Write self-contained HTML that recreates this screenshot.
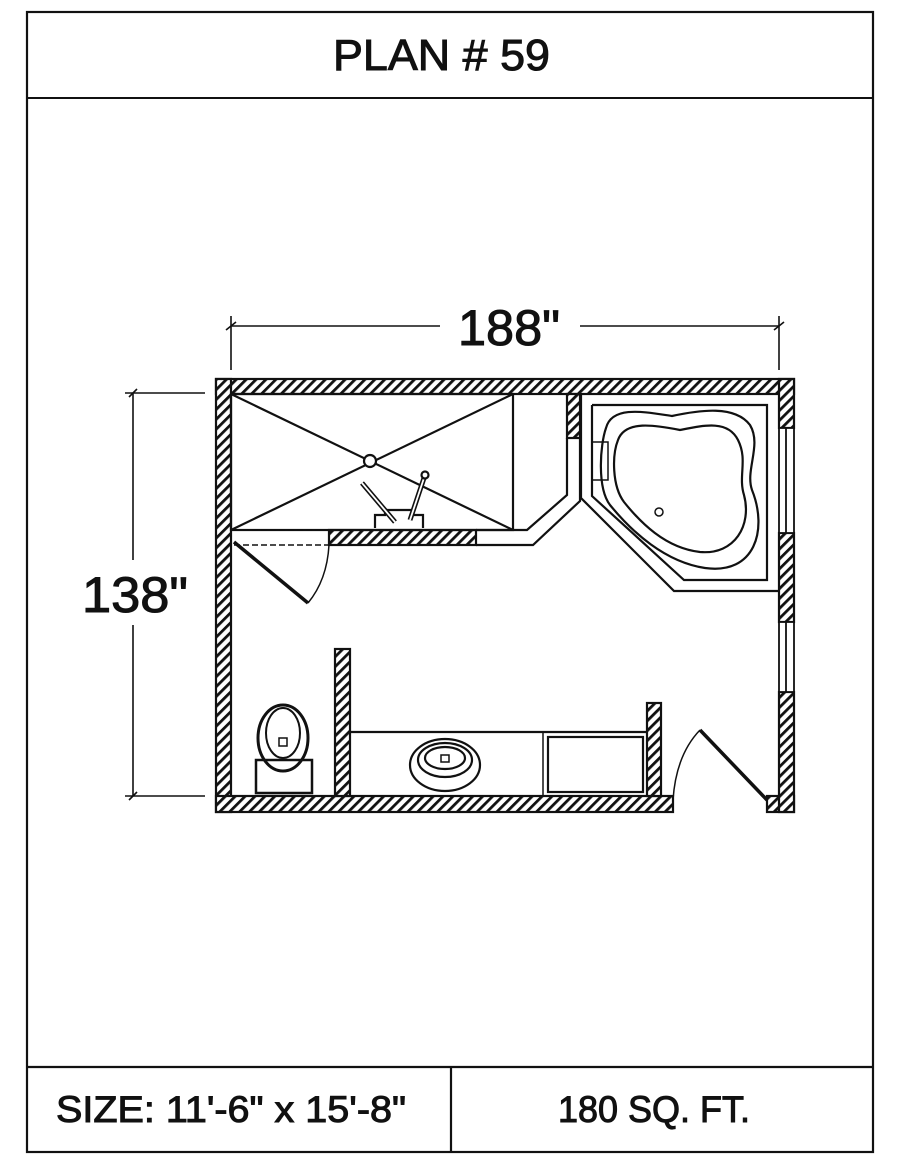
<!DOCTYPE html>
<html><head><meta charset="utf-8"><style>html,body{margin:0;padding:0;background:#fff}svg{display:block}</style></head><body>
<svg width="900" height="1165" viewBox="0 0 900 1165" xmlns="http://www.w3.org/2000/svg" font-family="Liberation Sans, sans-serif">
<defs>
<pattern id="h" patternUnits="userSpaceOnUse" width="7" height="7" patternTransform="rotate(45)">
<rect width="7" height="7" fill="#fff"/><rect x="0" y="0" width="2.8" height="7" fill="#111"/>
</pattern>
</defs>
<rect x="0" y="0" width="900" height="1165" fill="#fff"/>
<rect x="27" y="12" width="846" height="1140" fill="none" stroke="#111" stroke-width="2.2"/>
<line x1="27" y1="98" x2="873" y2="98" stroke="#111" stroke-width="2"/>
<line x1="27" y1="1067" x2="873" y2="1067" stroke="#111" stroke-width="2.2"/>
<line x1="451" y1="1067" x2="451" y2="1152" stroke="#111" stroke-width="2.2"/>
<g fill="#111" stroke="#111" stroke-width="1">
<text x="333" y="70" font-size="44" textLength="217" lengthAdjust="spacingAndGlyphs">PLAN # 59</text>
<text x="56" y="1122" font-size="37" textLength="350" lengthAdjust="spacingAndGlyphs">SIZE:  11'-6" x 15'-8"</text>
<text x="558" y="1122" font-size="37" textLength="192" lengthAdjust="spacingAndGlyphs">180 SQ. FT.</text>
<text x="458" y="345" font-size="50" textLength="102" lengthAdjust="spacingAndGlyphs">188"</text>
<text x="82" y="612" font-size="50" textLength="106" lengthAdjust="spacingAndGlyphs">138"</text>
</g>

<g stroke="#111" stroke-width="1.6" fill="none">
<line x1="231" y1="326" x2="440" y2="326"/><line x1="580" y1="326" x2="779" y2="326"/>
<line x1="231" y1="316" x2="231" y2="370"/><line x1="779" y1="316" x2="779" y2="370"/>
<line x1="226" y1="330" x2="236" y2="322"/><line x1="774" y1="330" x2="784" y2="322"/>
<line x1="133" y1="393" x2="133" y2="560"/><line x1="133" y1="625" x2="133" y2="796"/>
<line x1="125" y1="393" x2="205" y2="393"/><line x1="125" y1="796" x2="205" y2="796"/>
<line x1="129" y1="397" x2="137" y2="389"/><line x1="129" y1="800" x2="137" y2="792"/>
</g>

<g fill="url(#h)" stroke="#111" stroke-width="2.2">
<rect x="216" y="379" width="578" height="15"/>
<rect x="216" y="379" width="15" height="433"/>
<rect x="216" y="796" width="457" height="16"/>
<rect x="767" y="796" width="27" height="16"/>
<rect x="779" y="379" width="15" height="49"/>
<rect x="779" y="533" width="15" height="89"/>
<rect x="779" y="692" width="15" height="120"/>
<rect x="329" y="530" width="147" height="15"/>
<rect x="567" y="394" width="13" height="44"/>
<rect x="335" y="649" width="15" height="147"/>
<rect x="647" y="703" width="14" height="93"/>
</g>
<g stroke="#111" stroke-width="1.8" fill="#fff">
<rect x="779" y="428" width="15" height="105"/><line x1="786" y1="428" x2="786" y2="533"/>
<rect x="779" y="622" width="15" height="70"/><line x1="786" y1="622" x2="786" y2="692"/>
</g>
<g stroke="#111" stroke-width="2.2" fill="none">
<rect x="231" y="394" width="282" height="136"/>
<line x1="231" y1="394" x2="513" y2="530"/>
<line x1="231" y1="530" x2="513" y2="394"/>
<polyline points="476,530 527,530 567,495 567,438"/>
<polyline points="476,545 533,545 580,501 580,438"/>
<line x1="234" y1="530" x2="329" y2="530" stroke-dasharray="6,3" stroke-width="1.5"/>
<line x1="234" y1="545" x2="329" y2="545" stroke-dasharray="6,3" stroke-width="1.5"/>
<line x1="234" y1="542" x2="308" y2="603" stroke-width="3.5"/>
<path d="M308,603 Q327,580 329,545" stroke-width="1.5"/>
<polyline points="581,394 581,498 674,591 779,591"/>
<polyline points="592,405 767,405 767,580 684,580 592,496 592,405"/>
<rect x="592" y="442" width="16" height="38" stroke-width="1.5"/>
<path d="M606,428 C612,405 645,412 672,416 C700,410 735,405 750,425 C762,445 745,470 752,490 C768,530 755,575 705,568 C665,562 632,532 610,505 C597,488 600,445 606,428 Z"/>
<path d="M618,440 C625,420 655,425 680,430 C705,425 728,420 738,440 C748,460 738,476 744,495 C752,525 735,555 700,552 C665,548 640,522 624,502 C612,486 612,455 618,440 Z"/>
<circle cx="659" cy="512" r="4" stroke-width="1.5"/>
<line x1="767" y1="800" x2="700" y2="730" stroke-width="3.5"/>
<path d="M700,730 Q676,755 673,800" stroke-width="1.5"/>
<line x1="350" y1="732" x2="647" y2="732"/>
<line x1="543" y1="732" x2="543" y2="796" stroke-width="1.5"/>
<rect x="548" y="737" width="95" height="55"/>
<ellipse cx="445" cy="765" rx="35" ry="26"/>
<ellipse cx="445" cy="760" rx="27" ry="17"/>
<ellipse cx="445" cy="758" rx="20" ry="11"/>
<rect x="441" y="755" width="8" height="7" stroke-width="1.5"/>
<path d="M256,793 L256,760 L312,760 L312,793 Z" stroke-width="2.5"/>
<ellipse cx="283" cy="738" rx="25" ry="33" stroke-width="3"/>
<ellipse cx="283" cy="733" rx="17" ry="25" stroke-width="2"/>
<rect x="279" y="738" width="8" height="8" stroke-width="1.5"/>
<path d="M375,528 L375,515 L385,515 L385,510 L412,510 L412,515 L423,515 L423,528"/>
<line x1="362" y1="483" x2="395" y2="522" stroke-width="5"/>
<line x1="362" y1="483" x2="395" y2="522" stroke="#fff" stroke-width="1.8"/>
<line x1="425" y1="475" x2="410" y2="520" stroke-width="5"/>
<line x1="425" y1="475" x2="410" y2="520" stroke="#fff" stroke-width="1.8"/>
<circle cx="425" cy="475" r="3.5" fill="#fff"/>
<circle cx="370" cy="461" r="6" fill="#fff"/>
</g>
</svg>
</body></html>
